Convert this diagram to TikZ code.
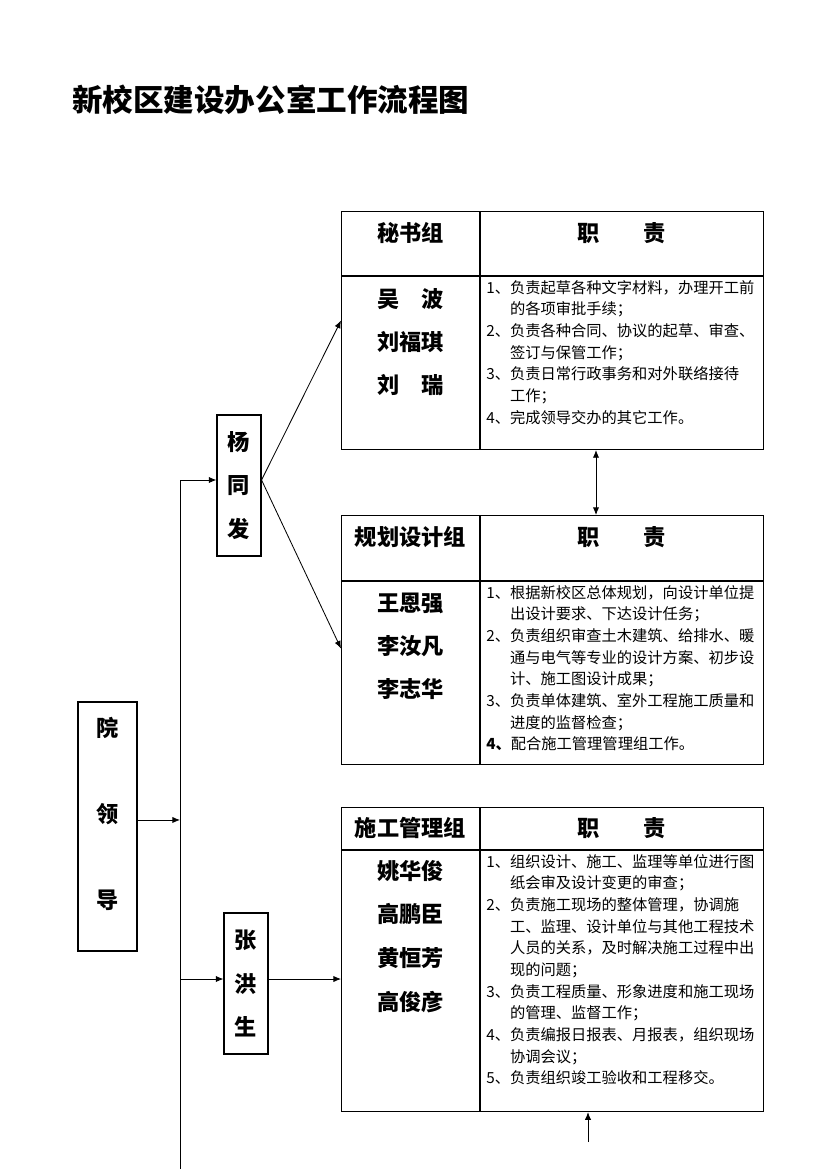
\documentclass[tikz,border=0pt]{standalone}
\usepackage{fontspec}
\newfontfamily\cjk{Noto Sans CJK SC}
\usetikzlibrary{positioning, arrows.meta}

\begin{document}
\begin{tikzpicture}[x=0.7203pt, y=-0.7203pt, >={Latex[length=5.5pt, width=4.5pt]},
    vbox/.style={draw, line width=0.8pt, inner sep=0pt, minimum width=31.7pt, minimum height=101.6pt,
      align=center, font=\cjk\bfseries\fontsize{16}{31.5}\selectfont},
    tab/.style={draw, line width=0.8pt, inner sep=0pt, minimum width=304pt, anchor=north west},
    rule/.style={line width=0.8pt},
    head/.style={inner sep=0pt, font=\cjk\bfseries\fontsize{16}{20}\selectfont},
    names/.style={inner sep=0pt, align=center, font=\cjk\bfseries\fontsize{16}{31}\selectfont},
    duty/.style={anchor=north west, inner sep=0pt, align=left, font=\cjk\fontsize{11}{15.6}\selectfont},
    conn/.style={->, line width=0.6pt}]

        \useasboundingbox (0,0) rectangle (826,1169);

        % title
        \node[anchor=west, inner sep=0pt, font=\cjk\bfseries\fontsize{22}{26}\selectfont] (title) at (72,100) {新校区建设办公室工作流程图};

        % leaders
        \node[vbox, minimum width=42.5pt, minimum height=179.4pt,
          label={[align=center, yshift=9pt, font=\cjk\bfseries\fontsize{16}{62}\selectfont]center:院\\领\\导}] (lead) at (107.5,826.5) {};
        \node[vbox] (yang) at (239,485.5) {杨\\同\\发};
        \node[vbox] (zhang) at (246,983.5) {张\\洪\\生};

        % secretary group
        \node[tab, minimum height=171.4pt] (mishu) at (341,211) {};
        \draw[rule] (480,211) -- (480,449);
        \draw[rule] (341,276) -- (763,276);
        \node[head] (mishuHead) at (410.5,233) {秘书组};
        \node[head] (mishuDutyHead) at (621.5,233) {职　　责};
        \node[names] (mishuNames) at (410.5,342) {吴　波\\刘福琪\\刘　瑞};
        \node[duty] (mishuDuty) at (486,280) {1、负责起草各种文字材料，办理开工前\\\hphantom{1、}的各项审批手续；\\2、负责各种合同、协议的起草、审查、\\\hphantom{1、}签订与保管工作；\\3、负责日常行政事务和对外联络接待\\\hphantom{1、}工作；\\4、完成领导交办的其它工作。};

        % planning and design group
        \node[tab, minimum height=179.4pt] (guihua) at (341,515) {};
        \draw[rule] (480,515) -- (480,764);
        \draw[rule] (341,581) -- (763,581);
        \node[head] (guihuaHead) at (410.5,537) {规划设计组};
        \node[head] (guihuaDutyHead) at (621.5,537) {职　　责};
        \node[names] (guihuaNames) at (410.5,646) {王恩强\\李汝凡\\李志华};
        \node[duty] (guihuaDuty) at (486,585) {1、根据新校区总体规划，向设计单位提\\\hphantom{1、}出设计要求、下达设计任务；\\2、负责组织审查土木建筑、给排水、暖\\\hphantom{1、}通与电气等专业的设计方案、初步设\\\hphantom{1、}计、施工图设计成果；\\3、负责单体建筑、室外工程施工质量和\\\hphantom{1、}进度的监督检查；\\\textbf{4、}配合施工管理管理组工作。};

        % construction management group
        \node[tab, minimum height=219pt] (shigong) at (341,807) {};
        \draw[rule] (480,807) -- (480,1111);
        \draw[rule] (341,850) -- (763,850);
        \node[head] (shigongHead) at (410.5,828) {施工管理组};
        \node[head] (shigongDutyHead) at (621.5,828) {职　　责};
        \node[names, font=\cjk\bfseries\fontsize{16}{31.5}\selectfont] (shigongNames) at (410.5,936.5) {姚华俊\\高鹏臣\\黄恒芳\\高俊彦};
        \node[duty] (shigongDuty) at (486,854) {1、组织设计、施工、监理等单位进行图\\\hphantom{1、}纸会审及设计变更的审查；\\2、负责施工现场的整体管理，协调施\\\hphantom{1、}工、监理、设计单位与其他工程技术\\\hphantom{1、}人员的关系，及时解决施工过程中出\\\hphantom{1、}现的问题；\\3、负责工程质量、形象进度和施工现场\\\hphantom{1、}的管理、监督工作；\\4、负责编报日报表、月报表，组织现场\\\hphantom{1、}协调会议；\\5、负责组织竣工验收和工程移交。};

        % connectors
        \coordinate (trunkTop) at (180,480);
        \coordinate (trunkEnd) at (180,1169);
        \coordinate (trunkZhang) at (180,979);
        \coordinate (leadOut) at ([yshift=4.7pt]lead.east);
        \coordinate (linkX) at (596,0);
        \coordinate (feedIn) at (588,1142);

        \draw[line width=0.6pt] (trunkTop) -- (trunkEnd);
        \draw[conn] (leadOut) -- (leadOut -| trunkTop);
        \draw[conn] (trunkTop) -- (trunkTop -| yang.west);
        \draw[conn] (trunkZhang) -- (trunkZhang -| zhang.west);
        \draw[conn] (trunkZhang -| zhang.east) -- (trunkZhang -| shigong.west);
        \draw[conn] (trunkTop -| yang.east) -- ([yshift=7.2pt]mishu.west);
        \draw[conn] (trunkTop -| yang.east) -- ([yshift=-6.1pt]guihua.west);
        \draw[<->, line width=0.6pt] (mishu.south -| linkX) -- (guihua.north -| linkX);
        \draw[conn] (feedIn) -- (feedIn |- shigong.south);

      \end{tikzpicture}
\end{document}
